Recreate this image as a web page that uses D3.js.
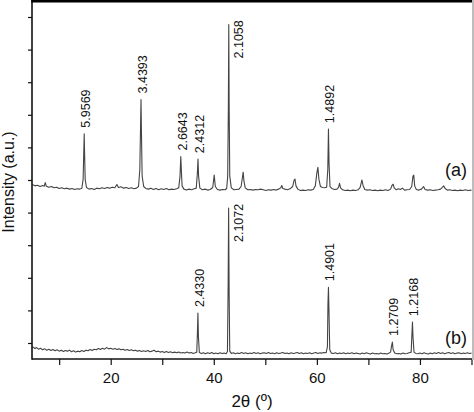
<!DOCTYPE html>
<html>
<head>
    <meta charset="utf-8">
    <title>XRD patterns (a) and (b)</title>
    <script src="https://d3js.org/d3.v7.min.js"></script>
    <style>
        body { margin: 0; background: #fff; }
        text { font-family: "Liberation Sans", Arial, sans-serif; fill: #111; }
    </style>
</head>
<body>
    <script>

        // pattern (a): [2theta, counts above its own baseline]
        var patternA = [
            [4.8,14],[5.3,10],[5.8,12],[6.3,8],[6.8,11],[7.1,9],[7.3,20],[7.5,9],[8,6],[8.5,8],[9,4],[9.5,6],
            [10,2],[10.5,4],[11,1],[11.5,3],[12,0],[12.5,2],[13,-1],[13.5,1],[14,0],[14.4,3],
            [14.65,30],[14.8,130],[14.86,170],[14.92,120],[15.05,30],[15.3,5],[15.8,0],[16.3,2],[16.8,-1],
            [17.3,3],[17.8,1],[18.3,4],[18.8,2],[19.3,5],[19.8,3],[20.3,6],[20.8,4],[21.2,14],[21.5,5],
            [22,7],[22.5,3],[23,5],[23.5,2],[24,4],[24.5,1],[25,3],[25.4,8],
            [25.65,60],[25.8,200],[25.88,275],[25.95,190],[26.1,40],[26.4,8],[26.8,2],[27.3,0],[27.8,3],
            [28.3,-1],[28.8,2],[29.3,-2],[29.8,1],[30.3,-1],[30.8,2],[31.3,-2],[31.8,0],[32.3,-1],[32.8,1],
            [33.2,4],[33.45,40],[33.6,100],[33.7,60],[33.85,10],[34.2,0],[34.7,-3],[35.2,0],[35.7,-2],
            [36.2,1],[36.6,3],[36.82,50],[36.94,92],[37.05,40],[37.3,3],[37.8,-2],[38.3,0],[38.8,-3],
            [39.3,-1],[39.8,5],[40.08,43],[40.3,8],[40.7,-1],[41.2,-3],[41.7,-1],[42.2,-2],[42.5,2],
            [42.7,40],[42.83,250],[42.91,505],[42.98,260],[43.1,40],[43.4,4],[43.9,-2],[44.4,-1],[44.9,0],
            [45.3,8],[45.55,35],[45.7,52],[45.85,25],[46.1,4],[46.6,-2],[47.1,-1],[47.6,-3],[48.1,-1],
            [48.6,-2],[49.1,0],[49.6,-2],[50.1,-4],[50.6,-2],[51.1,-3],[51.6,-1],[52.1,-3],[52.6,0],
            [53,4],[53.2,11],[53.4,2],[53.8,0],[54.3,-2],[54.8,1],[55.3,8],[55.6,28],[55.75,31],[55.95,10],
            [56.3,0],[56.8,-4],[57.3,-3],[57.8,-4],[58.3,-2],[58.8,-3],[59.3,-1],[59.7,10],[60,50],
            [60.2,67],[60.4,30],[60.7,8],[61.1,5],[61.5,4],[61.9,6],[62.12,60],[62.25,184],[62.36,80],
            [62.55,8],[62.9,2],[63.4,-1],[63.9,0],[64.2,5],[64.4,18],[64.6,4],[65,-2],[65.5,-4],[66,-3],
            [66.5,-5],[67,-3],[67.5,-4],[68,-2],[68.4,5],[68.75,28],[68.95,12],[69.3,-1],[69.8,-3],
            [70.3,-2],[70.8,-4],[71.3,-3],[71.8,-5],[72.3,-3],[72.8,-4],[73.3,-2],[73.8,-4],[74.3,0],
            [74.6,12],[74.8,15],[75,4],[75.4,-2],[75.8,1],[76.2,-1],[76.6,3],[77,-3],[77.5,-2],[78,-1],
            [78.4,8],[78.65,40],[78.8,43],[78.98,10],[79.3,-1],[79.8,-3],[80.3,0],[80.7,8],[81,-1],
            [81.5,-3],[82,-2],[82.5,-4],[83,-3],[83.5,-2],[84,0],[84.4,6],[84.6,10],[84.9,2],[85.3,-3],
            [85.8,-2],[86.3,-4],[86.8,-3],[87.3,-5],[87.8,-3],[88.3,-4],[88.8,-2],[89.3,-4],[90,-3]
        ];

        // pattern (b)
        var patternB = [
            [4.8,20],[5.3,14],[5.6,17],[6,12],[6.4,15],[6.8,10],[7.2,13],[7.6,9],[8,12],[8.4,8],[8.8,11],
            [9.2,7],[9.6,10],[10,6],[10.4,9],[10.8,5],[11.2,8],[11.6,6],[12,9],[12.4,4],[12.8,7],[13.2,3],
            [13.6,6],[14,4],[14.4,8],[14.8,5],[15.2,9],[15.6,7],[16,11],[16.4,8],[16.8,12],[17.2,10],
            [17.6,14],[18,11],[18.4,15],[18.8,12],[19.2,17],[19.6,13],[20,15],[20.4,12],[20.8,14],
            [21.2,11],[21.6,13],[22,10],[22.4,12],[22.8,9],[23.2,11],[23.6,8],[24,10],[24.4,7],[24.8,9],
            [25.2,6],[25.6,8],[26,5],[26.4,7],[26.8,5],[27.2,8],[27.6,4],[28,6],[28.4,9],[28.8,4],[29.2,6],
            [29.6,3],[30,5],[30.4,2],[30.8,5],[31.2,2],[31.6,4],[32,1],[32.4,3],[32.8,1],[33.2,3],[33.6,0],
            [34,2],[34.4,0],[34.8,3],[35.2,0],[35.6,2],[36,-1],[36.4,1],[36.7,3],
            [36.82,60],[36.92,123],[37.02,50],[37.2,2],[37.6,-1],[38,1],[38.4,-2],[38.8,1],[39.2,-1],
            [39.6,2],[40,-2],[40.4,0],[40.8,-2],[41.2,1],[41.6,-1],[42,0],[42.4,-2],[42.65,5],
            [42.78,200],[42.88,445],[42.98,180],[43.1,6],[43.4,-1],[43.8,1],[44.2,-2],[44.6,0],[45,-1],
            [45.4,2],[45.8,-1],[46.2,1],[46.6,-2],[47,0],[47.4,-1],[47.8,2],[48.2,-1],[48.6,1],[49,-2],
            [49.4,0],[49.8,1],[50.2,-1],[50.6,2],[51,-1],[51.4,0],[51.8,-2],[52.2,1],[52.6,-1],[53,0],
            [53.4,2],[53.8,-1],[54.2,0],[54.6,-2],[55,1],[55.4,-1],[55.8,0],[56.2,2],[56.6,-1],[57,1],
            [57.4,-2],[57.8,0],[58.2,-1],[58.6,1],[59,-2],[59.4,0],[59.8,2],[60.2,-1],[60.6,1],[61,0],
            [61.4,2],[61.8,1],[62.05,20],[62.15,150],[62.25,202],[62.35,130],[62.5,10],[62.8,0],
            [63.2,-1],[63.6,1],[64,-2],[64.4,0],[64.8,-1],[65.2,1],[65.6,-2],[66,0],[66.4,-1],[66.8,1],
            [67.2,-2],[67.6,0],[68,-1],[68.4,-3],[68.8,0],[69.2,-2],[69.6,1],[70,-1],[70.4,-3],[70.8,0],
            [71.2,-2],[71.6,-1],[72,-3],[72.4,0],[72.8,-2],[73.2,-1],[73.6,-3],[74,0],[74.3,3],
            [74.5,22],[74.65,34],[74.8,10],[75.1,0],[75.5,-2],[75.9,-1],[76.3,-3],[76.7,0],[77.1,-2],
            [77.5,-1],[77.9,1],[78.3,3],[78.45,60],[78.55,95],[78.65,50],[78.85,3],[79.2,-1],[79.6,-2],
            [80,0],[80.4,-2],[80.8,1],[81.2,-1],[81.6,-3],[82,0],[82.4,-2],[82.8,1],[83.2,-1],[83.6,2],
            [84,-1],[84.4,1],[84.8,-2],[85.2,0],[85.6,2],[86,-1],[86.4,1],[86.8,-2],[87.2,0],[87.6,1],
            [88,-2],[88.4,0],[88.8,-1],[89.2,1],[89.6,-1],[90,0]
        ];

        // stacking offsets of the two patterns
        var offsetA = 572;
        var offsetB = 69;

        // d-spacing labels: text, 2theta, peak height
        var labelsA = [["5.9569",14.86,170],["3.4393",25.88,275],["2.6643",33.6,100],["2.4312",36.94,92],
                       ["2.1058",42.91,505],["1.4892",62.25,184]];
        var labelsB = [["2.4330",36.92,123],["2.1072",42.88,445],["1.4901",62.25,202],
                       ["1.2709",74.65,34],["1.2168",78.55,95]];

        var xTicks = [10,20,30,40,50,60,70,80,90];
        var yTicks = [100,200,300,400,500,600,700,800,900,1000,1100];

        var W = 474, H = 412;
        var mLeft = 32, mRight = 472, mTop = 2, mBottom = 359;

        var svg = d3.select("body").append("svg")
            .attr("width", W)
            .attr("height", H);

        var x = d3.scaleLinear().domain([4.73, 90.1]).range([mLeft, mRight]);
        var y = d3.scaleLinear().domain([50.9, 1146]).range([mBottom, mTop]);

        function drawPattern(data, off, labels, tag, tagY) {
            var line = d3.line()
                .x(function(d) { return x(d[0]); })
                .y(function(d) { return y(d[1] + off); });

            svg.append("path")
                .attr("d", line(data))
                .attr("fill", "none")
                .attr("stroke", "#444")
                .attr("stroke-width", 1.1)
                .attr("stroke-linejoin", "round");

            var maxH = d3.max(labels, function(l) { return l[2]; });
            labels.forEach(function(l) {
                var px = x(l[1]) + 1.5;
                var py = y(l[2] + off) - 6;
                if (l[2] === maxH) {
                    // tallest peak: label sits beside the line
                    px = x(l[1]) + 9.5;
                    py = y(l[2] + off) + 34;
                }
                svg.append("text")
                    .attr("transform", "translate(" + px + "," + py + ") rotate(-90)")
                    .attr("dy", "0.36em")
                    .style("font-size", "12.5px")
                    .text(l[0]);
            });

            svg.append("text")
                .attr("x", 467)
                .attr("y", tagY)
                .attr("text-anchor", "end")
                .style("font-size", "18px")
                .text(tag);
        }

        drawPattern(patternA, offsetA, labelsA, "(a)", 176);
        drawPattern(patternB, offsetB, labelsB, "(b)", 344);

        // axes
        var xAxis = d3.axisBottom(x)
            .tickValues(xTicks)
            .tickSize(6)
            .tickPadding(7)
            .tickFormat(function(d) { return d % 20 === 0 ? d : ""; });

        var gx = svg.append("g")
            .attr("transform", "translate(0," + mBottom + ")")
            .call(xAxis);
        gx.select(".domain").remove();
        gx.selectAll("line").attr("stroke", "#111").attr("stroke-width", 1.2);
        gx.selectAll("text")
            .style("font-size", "15px")
            .style("font-family", "'Liberation Sans', Arial, sans-serif")
            .attr("fill", "#111");

        var yAxis = d3.axisLeft(y)
            .tickValues(yTicks)
            .tickSize(4)
            .tickFormat("");

        var gy = svg.append("g")
            .attr("transform", "translate(" + mLeft + ",0)")
            .call(yAxis);
        gy.select(".domain").remove();
        gy.selectAll("line").attr("stroke", "#111").attr("stroke-width", 1.2);

        // frame
        svg.append("line")
            .attr("x1", mLeft).attr("x2", mLeft)
            .attr("y1", 0).attr("y2", mBottom + 0.7)
            .attr("stroke", "#111").attr("stroke-width", 1.6);
        svg.append("line")
            .attr("x1", mLeft).attr("x2", mRight)
            .attr("y1", mBottom).attr("y2", mBottom)
            .attr("stroke", "#111").attr("stroke-width", 1.6);
        svg.append("line")
            .attr("x1", mLeft - 0.8).attr("x2", W)
            .attr("y1", 1.2).attr("y2", 1.2)
            .attr("stroke", "#000").attr("stroke-width", 2.6);
        svg.append("line")
            .attr("x1", 473).attr("x2", 473)
            .attr("y1", 0).attr("y2", mBottom + 1)
            .attr("stroke", "#bdbdbd").attr("stroke-width", 2);

        // axis titles
        svg.append("text")
            .attr("transform", "translate(14,182) rotate(-90)")
            .attr("text-anchor", "middle")
            .style("font-size", "16px")
            .text("Intensity (a.u.)");

        svg.append("text")
            .attr("x", (mLeft + mRight) / 2)
            .attr("y", 407)
            .attr("text-anchor", "middle")
            .style("font-size", "17px")
            .text("2\u03b8 (\u00ba)");

    </script>
</body>
</html>
